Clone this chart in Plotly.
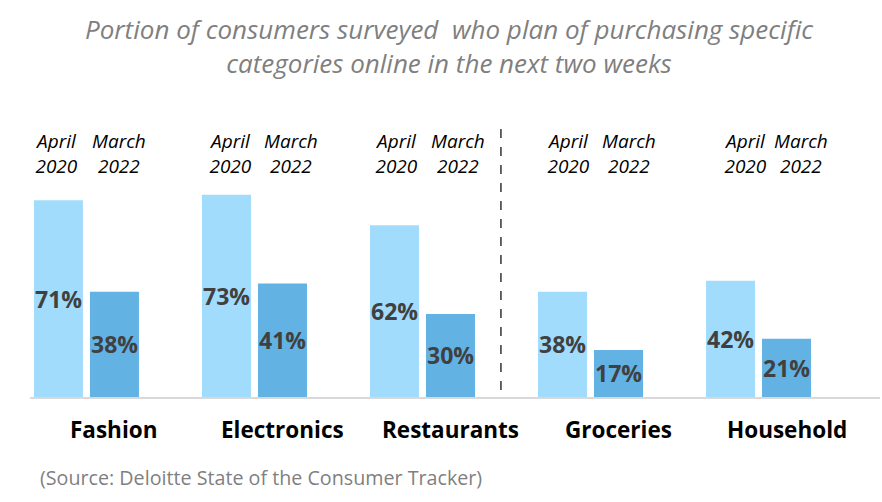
import plotly.graph_objects as go

categories = ["Fashion", "Electronics", "Restaurants", "Groceries", "Household"]
april_2020 = [71, 73, 62, 38, 42]
march_2022 = [38, 41, 30, 17, 21]
series_names = ["April<br>2020", "March<br>2022"]
title_text = ("Portion of consumers surveyed \u00a0who plan of purchasing specific<br>"
              "categories online in the next two weeks")
source_text = "(Source: Deloitte State of the Consumer Tracker)"

LIGHT = "#a2dcfd"
DARK = "#62b3e4"
FONT = "Open Sans"

xpos = list(range(len(categories)))
bw = 0.2917
offsets = [-0.3125, 0.0208]

fig = go.Figure()
for vals, color, off in [(april_2020, LIGHT, offsets[0]), (march_2022, DARK, offsets[1])]:
    fig.add_trace(go.Bar(
        x=xpos, y=vals, width=bw, offset=off,
        marker=dict(color=color, line=dict(width=0)),
        hoverinfo="skip",
    ))
    # value labels centred in each bar
    for i, v in zip(xpos, vals):
        fig.add_annotation(x=i + off + bw / 2, y=v / 2, xref="x", yref="y",
                           text=f"<b>{v}%</b>", showarrow=False,
                           font=dict(family=FONT, size=23, color="#404040"))

# period labels above each group
april_shift = [-1.5, 4.5, 2, 6, 14.5]
march_shift = [5, 9, 8, 10, 14.5]
for i in xpos:
    for name, off, sh in [(series_names[0], offsets[0] + bw / 2, april_shift[i]),
                          (series_names[1], offsets[1] + bw / 2, march_shift[i])]:
        fig.add_annotation(x=i + off, y=1, xref="x", yref="paper",
                           yanchor="bottom", yshift=-61, xshift=sh,
                           text=name, showarrow=False,
                           font=dict(family=FONT, size=19, color="#000000", style="italic"))
    fig.add_annotation(x=i, y=0, xref="x", yref="paper", yanchor="top",
                       yshift=-15, xshift=28, text=f"<b>{categories[i]}</b>",
                       showarrow=False,
                       font=dict(family=FONT, size=22.5, color="#000000"))

fig.add_shape(type="line", xref="x", yref="y", x0=2.467, x1=2.467, y0=2.5, y1=97.5,
              line=dict(color="#000000", width=1.2, dash="dash"))

# title
fig.add_annotation(x=0.5, y=1, xref="paper", yref="paper", xanchor="center", yanchor="top",
                   xshift=-6, yshift=111, text=title_text, showarrow=False,
                   font=dict(family=FONT, size=26, color="#7f7f7f", style="italic"))

# source
fig.add_annotation(x=0, y=0, xref="paper", yref="paper", xanchor="left", yanchor="middle",
                   xshift=8, yshift=-80, text=source_text, showarrow=False,
                   font=dict(family=FONT, size=19.7, color="#7f7f7f"))

fig.update_layout(
    width=882, height=502,
    margin=dict(l=30, r=2, t=120, b=105),
    paper_bgcolor="white", plot_bgcolor="white",
    showlegend=False,
    xaxis=dict(range=[-0.336, 4.723], showgrid=False, zeroline=False,
               showticklabels=False, showline=True, linecolor="#d9d9d9", linewidth=2,
               fixedrange=True),
    yaxis=dict(range=[0, 100], visible=False, fixedrange=True),
)

fig.write_html("out.html", config={"displayModeBar": False},
               post_script="document.body.style.margin='0';")
